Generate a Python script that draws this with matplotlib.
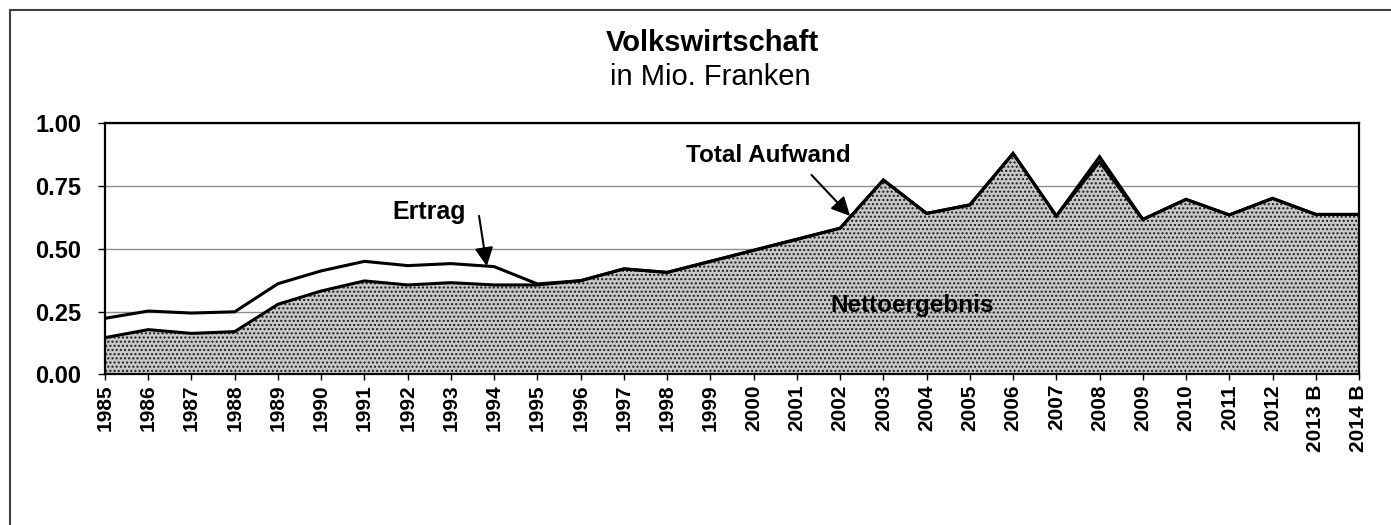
import numpy as np
import matplotlib.pyplot as plt
from matplotlib.lines import Line2D

plt.rcParams['font.family'] = ['Liberation Sans', 'DejaVu Sans']

# Data (Mio. Franken)
years = ['1985', '1986', '1987', '1988', '1989', '1990', '1991', '1992', '1993', '1994',
         '1995', '1996', '1997', '1998', '1999', '2000', '2001', '2002', '2003', '2004',
         '2005', '2006', '2007', '2008', '2009', '2010', '2011', '2012', '2013 B', '2014 B']
ertrag = [0.223, 0.252, 0.244, 0.249, 0.361, 0.412, 0.450, 0.433, 0.441, 0.429,
          0.360, 0.373, 0.420, 0.406, 0.450, 0.494, 0.538, 0.582, 0.774, 0.641,
          0.675, 0.880, 0.631, 0.867, 0.617, 0.697, 0.635, 0.701, 0.637, 0.637]
aufwand = [0.146, 0.178, 0.163, 0.170, 0.279, 0.332, 0.372, 0.356, 0.365, 0.356,
           0.356, 0.373, 0.420, 0.406, 0.450, 0.494, 0.538, 0.582, 0.774, 0.641,
           0.675, 0.880, 0.631, 0.847, 0.617, 0.697, 0.635, 0.701, 0.637, 0.637]
y_ticks = [0.0, 0.25, 0.5, 0.75, 1.0]

W, H = 1391, 525
fig = plt.figure(figsize=(W / 100, H / 100), dpi=100)
ax = fig.add_axes([105 / W, 1 - 374.3 / H, 1254 / W, 251 / H])

x = np.arange(len(years))

# filled area (Total Aufwand / Nettoergebnis)
ax.fill_between(x, 0, aufwand, facecolor='#c8c8c8', edgecolor='#1a1a1a',
                hatch='....', linewidth=0, zorder=2)
ax.plot(x, ertrag, color='black', lw=2.2, zorder=3, solid_joinstyle='miter')
ax.plot(x, aufwand, color='black', lw=2.2, zorder=3, solid_joinstyle='miter')

ax.set_xlim(0, len(years) - 1)
ax.set_ylim(0, 1)
ax.set_yticks(y_ticks)
ax.set_yticklabels([f'{v:.2f}' for v in y_ticks], fontsize=17, fontweight='bold')
ax.set_xticks(x)
ax.set_xticklabels(years, rotation=90, fontsize=15, fontweight='bold', va='top')
ax.yaxis.grid(True, color='#8c8c8c', lw=1)
ax.set_axisbelow(True)
ax.tick_params(axis='y', length=5, width=1, pad=12)
ax.tick_params(axis='x', length=4, width=1, pad=3)
for s in ax.spines.values():
    s.set_linewidth(1.6)
    s.set_zorder(4)

# annotations
arrow = dict(arrowstyle='-|>', color='black', lw=1.5, mutation_scale=28,
             shrinkA=0, shrinkB=0)
ax.annotate('', xy=(8.83, 0.431), xytext=(8.65, 0.631), arrowprops=arrow, zorder=5)
ax.annotate('', xy=(17.23, 0.631), xytext=(16.34, 0.794), arrowprops=arrow, zorder=5)
ax.text(7.5, 0.645, 'Ertrag', fontsize=18, fontweight='bold', ha='center', va='center')
ax.text(15.35, 0.870, 'Total Aufwand', fontsize=17.5, fontweight='bold',
        ha='center', va='center')
ax.text(18.66, 0.276, 'Nettoergebnis', fontsize=17.5, fontweight='bold',
        ha='center', va='center', zorder=5)

# titles
fig.text(712 / W, 1 - 43 / H, 'Volkswirtschaft', fontsize=21, fontweight='bold',
         ha='center', va='center')
fig.text(710 / W, 1 - 77 / H, 'in Mio. Franken', fontsize=21,
         ha='center', va='center')

# outer frame (top and left)
fig.add_artist(Line2D([10 / W, 1], [1 - 10 / H, 1 - 10 / H], color='#404040', lw=1.5))
fig.add_artist(Line2D([10 / W, 10 / W], [0, 1 - 10 / H], color='#404040', lw=1.5))

fig.savefig('out.png', dpi=100)
